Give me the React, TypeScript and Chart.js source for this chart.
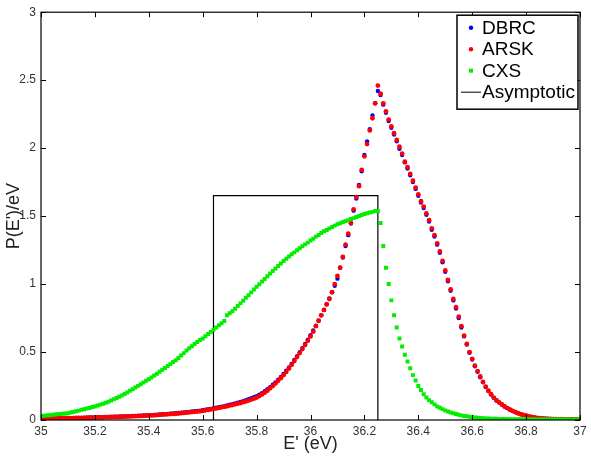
import React, { useEffect, useRef } from "react";
import { Chart, registerables } from "chart.js";
Chart.register(...registerables);

// Energy grid: samples every 0.01 eV from 35 to 37 eV
const E_START = 35;
const E_STEP = 0.01;

const DBRC = [
  0.011, 0.011, 0.011, 0.012, 0.012, 0.012, 0.013, 0.013, 0.013, 0.014,
  0.014, 0.014, 0.015, 0.015, 0.016, 0.016, 0.017, 0.017, 0.018, 0.019,
  0.019, 0.020, 0.020, 0.021, 0.022, 0.022, 0.023, 0.024, 0.024, 0.025,
  0.026, 0.026, 0.027, 0.028, 0.029, 0.030, 0.031, 0.032, 0.033, 0.034,
  0.035, 0.036, 0.037, 0.039, 0.040, 0.042, 0.043, 0.045, 0.047, 0.049,
  0.050, 0.052, 0.054, 0.056, 0.058, 0.060, 0.062, 0.064, 0.067, 0.069,
  0.072, 0.075, 0.079, 0.082, 0.086, 0.090, 0.094, 0.098, 0.102, 0.107,
  0.112, 0.117, 0.122, 0.128, 0.133, 0.139, 0.146, 0.153, 0.160, 0.168,
  0.176, 0.186, 0.198, 0.211, 0.226, 0.242, 0.259, 0.277, 0.296, 0.317,
  0.339, 0.362, 0.387, 0.413, 0.441, 0.470, 0.499, 0.529, 0.560, 0.591,
  0.624, 0.658, 0.694, 0.731, 0.770, 0.810, 0.852, 0.895, 0.940, 0.988,
  1.040, 1.120, 1.195, 1.280, 1.360, 1.445, 1.540, 1.630, 1.730, 1.830,
  1.950, 2.050, 2.140, 2.240, 2.330, 2.420,
  2.390,
  2.320, 2.260, 2.200, 2.150, 2.100, 2.050, 1.995, 1.950, 1.895, 1.850, 1.800, 1.750, 1.700, 1.650,
  1.600, 1.560, 1.510, 1.460, 1.400, 1.350, 1.290, 1.230, 1.160, 1.090,
  1.020, 0.950, 0.880, 0.820, 0.750, 0.680, 0.615, 0.555, 0.495, 0.445,
  0.395, 0.355, 0.315, 0.278, 0.243, 0.213, 0.188, 0.163, 0.144, 0.128,
  0.113, 0.099, 0.087, 0.076, 0.066, 0.057, 0.049, 0.042, 0.036, 0.031,
  0.026, 0.022, 0.019, 0.016, 0.014, 0.012, 0.010, 0.009, 0.008, 0.007,
  0.007, 0.006, 0.006, 0.006, 0.005, 0.005, 0.005, 0.005, 0.004, 0.004,
];

const ARSK = [
  0.010, 0.010, 0.011, 0.011, 0.011, 0.012, 0.012, 0.012, 0.013, 0.013,
  0.013, 0.014, 0.014, 0.015, 0.015, 0.016, 0.016, 0.017, 0.017, 0.018,
  0.018, 0.019, 0.019, 0.020, 0.021, 0.021, 0.022, 0.022, 0.023, 0.024,
  0.024, 0.025, 0.026, 0.026, 0.027, 0.028, 0.029, 0.030, 0.031, 0.032,
  0.033, 0.034, 0.035, 0.036, 0.038, 0.039, 0.041, 0.042, 0.044, 0.045,
  0.046, 0.048, 0.050, 0.052, 0.054, 0.056, 0.058, 0.060, 0.062, 0.064,
  0.067, 0.071, 0.074, 0.078, 0.081, 0.085, 0.089, 0.093, 0.097, 0.101,
  0.106, 0.110, 0.115, 0.120, 0.125, 0.131, 0.137, 0.143, 0.150, 0.157,
  0.165, 0.176, 0.188, 0.201, 0.216, 0.233, 0.250, 0.268, 0.288, 0.308,
  0.330, 0.354, 0.379, 0.406, 0.434, 0.463, 0.492, 0.522, 0.552, 0.583,
  0.615, 0.650, 0.690, 0.730, 0.770, 0.810, 0.850, 0.890, 0.940, 1.000,
  1.060, 1.120, 1.200, 1.290, 1.370, 1.450, 1.550, 1.640, 1.720, 1.840,
  1.940, 2.030, 2.130, 2.220, 2.330, 2.460, 2.400, 2.330, 2.270, 2.210,
  2.160, 2.110, 2.060, 2.010, 1.960, 1.900, 1.860, 1.810, 1.760, 1.710,
  1.660, 1.610, 1.570, 1.520, 1.470, 1.410, 1.360, 1.300, 1.240, 1.170,
  1.100, 1.030, 0.960, 0.890, 0.830, 0.760, 0.690, 0.620, 0.560, 0.500,
  0.450, 0.400, 0.360, 0.320, 0.280, 0.245, 0.215, 0.190, 0.165, 0.145,
  0.130, 0.115, 0.100, 0.088, 0.077, 0.067, 0.058, 0.050, 0.043, 0.037,
  0.032, 0.027, 0.023, 0.019, 0.016, 0.014, 0.012, 0.010, 0.009, 0.008,
  0.007, 0.007, 0.006, 0.006, 0.006, 0.005, 0.005, 0.005, 0.005, 0.005,
  0.004,
];

const CXS = [
  0.030, 0.032, 0.034, 0.035, 0.037, 0.040, 0.042, 0.044, 0.046, 0.048,
  0.050, 0.055, 0.059, 0.064, 0.069, 0.075, 0.079, 0.084, 0.089, 0.095,
  0.100, 0.106, 0.113, 0.119, 0.127, 0.135, 0.143, 0.152, 0.162, 0.171,
  0.180, 0.191, 0.203, 0.215, 0.226, 0.239, 0.251, 0.263, 0.276, 0.288,
  0.300, 0.313, 0.327, 0.340, 0.355, 0.369, 0.383, 0.397, 0.411, 0.426,
  0.440, 0.456, 0.474, 0.492, 0.511, 0.528, 0.543, 0.559, 0.574, 0.588,
  0.600, 0.616, 0.633, 0.648, 0.664, 0.680, 0.697, 0.712, 0.728, 0.770,
  0.785, 0.800, 0.818, 0.838, 0.858, 0.878, 0.899, 0.918, 0.939, 0.960,
  0.980, 0.999, 1.019, 1.038, 1.058, 1.078, 1.096, 1.114, 1.133, 1.152,
  1.170, 1.186, 1.203, 1.219, 1.233, 1.249, 1.263, 1.278, 1.292, 1.305,
  1.320, 1.334, 1.349, 1.361, 1.375, 1.388, 1.398, 1.409, 1.420, 1.430,
  1.440, 1.448, 1.456, 1.463, 1.470, 1.478, 1.485, 1.493, 1.500, 1.508,
  1.515, 1.521, 1.527, 1.531, 1.538, 1.535, 1.450, 1.280, 1.120, 1.000,
  0.880, 0.770, 0.680, 0.600, 0.540, 0.480, 0.430, 0.380, 0.330, 0.290,
  0.250, 0.220, 0.190, 0.165, 0.145, 0.130, 0.115, 0.100, 0.090, 0.080,
  0.070, 0.062, 0.055, 0.050, 0.044, 0.039, 0.034, 0.030, 0.027, 0.024,
  0.021, 0.019, 0.017, 0.015, 0.013, 0.012, 0.011, 0.010, 0.009, 0.009,
  0.008, 0.008, 0.007, 0.007, 0.006, 0.006, 0.006, 0.005, 0.005, 0.005,
  0.005, 0.005, 0.004, 0.004, 0.004, 0.004, 0.004, 0.004, 0.003, 0.003,
  0.003, 0.003, 0.003, 0.003, 0.003, 0.003, 0.003, 0.003, 0.003, 0.003,
  0.003,
];

const ASYM_X = [35.64, 35.64, 36.25, 36.25];
const ASYM_Y = [0, 1.65, 1.65, 0];

const X_TICKS = [35, 35.2, 35.4, 35.6, 35.8, 36, 36.2, 36.4, 36.6, 36.8, 37];
const Y_TICKS = [0, 0.5, 1, 1.5, 2, 2.5, 3];

const FONT = "'Liberation Sans', Arial, Helvetica, sans-serif";

const toPoints = (vals: number[]) =>
  vals.map((y, i) => ({ x: E_START + i * E_STEP, y }));

const framePlugin = {
  id: "frame",
  afterDatasetsDraw(chart: any) {
    const { ctx, chartArea: a, scales } = chart;
    ctx.save();
    ctx.strokeStyle = "#000";
    ctx.lineWidth = 1.2;
    ctx.strokeRect(a.left, a.top, a.right - a.left, a.bottom - a.top);
    const L = 5;
    ctx.beginPath();
    for (const t of scales.x.ticks) {
      const px = Math.round(scales.x.getPixelForValue(t.value)) + 0.5;
      ctx.moveTo(px, a.bottom);
      ctx.lineTo(px, a.bottom - L);
      ctx.moveTo(px, a.top);
      ctx.lineTo(px, a.top + L);
    }
    for (const t of scales.y.ticks) {
      const py = Math.round(scales.y.getPixelForValue(t.value)) + 0.5;
      ctx.moveTo(a.left, py);
      ctx.lineTo(a.left + L, py);
      ctx.moveTo(a.right, py);
      ctx.lineTo(a.right - L, py);
    }
    ctx.lineWidth = 1;
    ctx.stroke();
    ctx.restore();
  },
  afterDraw(chart: any) {
    const { ctx, chartArea: a } = chart;
    const ds = chart.data.datasets;
    const w = 121;
    const h = 94;
    const x0 = a.right - 2 - w;
    const y0 = a.top + 3;
    ctx.save();
    ctx.fillStyle = "#fff";
    ctx.fillRect(x0, y0, w, h);
    ctx.strokeStyle = "#000";
    ctx.lineWidth = 1.5;
    ctx.strokeRect(x0, y0, w, h);
    ctx.font = `19px ${FONT}`;
    ctx.textBaseline = "middle";
    ctx.textAlign = "left";
    ds.forEach((d: any, i: number) => {
      const cy = y0 + 12.5 + i * 21.5;
      if (d.showLine) {
        ctx.beginPath();
        ctx.strokeStyle = d.borderColor;
        ctx.lineWidth = 1;
        ctx.moveTo(x0 + 4, cy);
        ctx.lineTo(x0 + 24, cy);
        ctx.stroke();
      } else {
        ctx.fillStyle = d.backgroundColor;
        ctx.beginPath();
        if (d.pointStyle === "rect") {
          ctx.rect(x0 + 12, cy - 2, 4, 4);
        } else {
          ctx.arc(x0 + 14, cy, 2.2, 0, Math.PI * 2);
        }
        ctx.fill();
      }
      ctx.fillStyle = "#000";
      ctx.fillText(d.label, x0 + 25, cy + 1);
    });
    ctx.restore();
  },
};

export default function App() {
  const ref = useRef<HTMLCanvasElement | null>(null);
  useEffect(() => {
    if (!ref.current) return;
    const chart = new Chart(ref.current, {
      type: "scatter",
      data: {
        datasets: [
          {
            label: "DBRC",
            data: toPoints(DBRC),
            backgroundColor: "#0000ff",
            borderWidth: 0,
            pointRadius: 2.2,
            pointStyle: "circle",
            showLine: false,
            order: 3,
          } as any,
          {
            label: "ARSK",
            data: toPoints(ARSK),
            backgroundColor: "#ff0000",
            borderWidth: 0,
            pointRadius: 2.4,
            pointStyle: "circle",
            showLine: false,
            order: 2,
          },
          {
            label: "CXS",
            data: toPoints(CXS),
            backgroundColor: "#00ee00",
            borderWidth: 0,
            pointRadius: 2.8,
            pointStyle: "rect",
            showLine: false,
            order: 1,
          },
          {
            label: "Asymptotic",
            data: ASYM_X.map((x, i) => ({ x, y: ASYM_Y[i] })),
            borderColor: "#000",
            borderWidth: 1.2,
            pointRadius: 0,
            showLine: true,
            order: 4,
          },
        ],
      },
      options: {
        animation: false,
        responsive: false,
        layout: { padding: { left: 0, top: 10, right: 11, bottom: 0 } },
        plugins: { legend: { display: false }, tooltip: { enabled: false } },
        scales: {
          x: {
            type: "linear",
            min: 35,
            max: 37,
            grid: { display: false, drawTicks: false },
            border: { display: false },
            afterBuildTicks: (s: any) => {
              s.ticks = X_TICKS.map((v) => ({ value: v }));
            },
            afterFit: (s: any) => {
              s.height = 38;
            },
            ticks: {
              padding: 4,
              maxRotation: 0,
              autoSkip: false,
              color: "#333",
              font: { family: FONT, size: 12 },
              callback: (v: any) => String(Number(Number(v).toFixed(1))),
            },
            title: {
              display: true,
              text: "E' (eV)",
              color: "#222",
              font: { family: FONT, size: 18 },
              padding: { top: 0, bottom: 3 },
            },
          },
          y: {
            type: "linear",
            min: 0,
            max: 3,
            grid: { display: false, drawTicks: false },
            border: { display: false },
            afterBuildTicks: (s: any) => {
              s.ticks = Y_TICKS.map((v) => ({ value: v }));
            },
            afterFit: (s: any) => {
              s.width = 41;
            },
            ticks: {
              padding: 5,
              autoSkip: false,
              color: "#333",
              font: { family: FONT, size: 12 },
              callback: (v: any) => String(Number(Number(v).toFixed(1))),
            },
            title: {
              display: true,
              text: "P(E')/eV",
              color: "#222",
              font: { family: FONT, size: 18 },
              padding: { top: 3, bottom: 0 },
            },
          },
        },
      },
      plugins: [framePlugin],
    });
    return () => chart.destroy();
  }, []);
  return (
    <div style={{ position: "fixed", left: 0, top: 0, width: 591, height: 458, background: "#fff" }}>
      <canvas ref={ref} width={591} height={458} />
    </div>
  );
}
